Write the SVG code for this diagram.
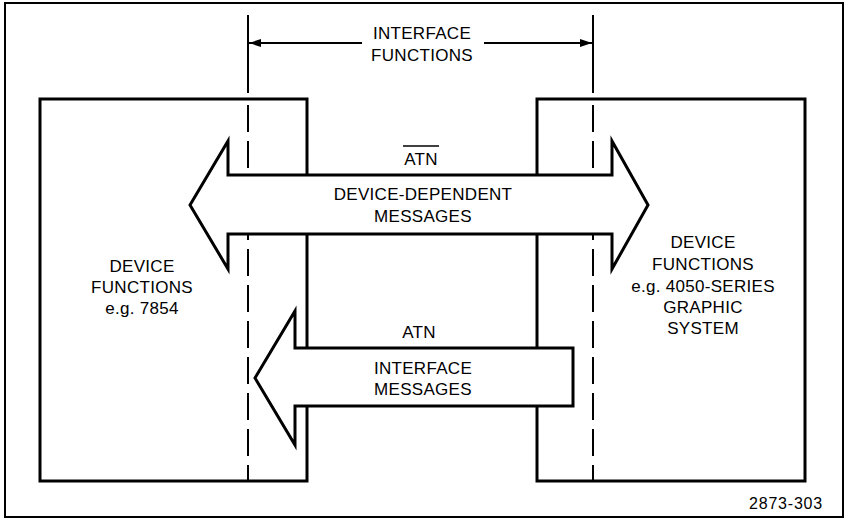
<svg xmlns="http://www.w3.org/2000/svg" width="845" height="519" viewBox="0 0 845 519">
<defs>
<marker id="ah" viewBox="0 0 12 8" refX="12" refY="4" markerWidth="12" markerHeight="8" markerUnits="userSpaceOnUse" orient="auto">
<path d="M0,0 L12,4 L0,8 Z" fill="#000"/>
</marker>
</defs>
<style>
.frame{fill:none;stroke:#000;stroke-width:2}
.box{fill:#fff;stroke:#000;stroke-width:3}
.arrow{fill:#fff;stroke:#000;stroke-width:3;stroke-linejoin:miter}
.dash{fill:none;stroke:#000;stroke-width:2;stroke-dasharray:27 9}
.line{fill:none;stroke:#000;stroke-width:2}
text{font-family:"Liberation Sans",Arial,sans-serif;font-size:17px;letter-spacing:0.3px;fill:#000;text-anchor:middle}
.small{font-size:16px;letter-spacing:0.8px}
</style>
<rect width="845" height="519" fill="#fff"/>
<rect class="frame" x="5" y="3" width="838" height="514"/>
<g id="left-device">
<rect class="box" x="40" y="99" width="267" height="382"/>
<text x="142" y="272">DEVICE</text>
<text x="142" y="293">FUNCTIONS</text>
<text x="142" y="314">e.g. 7854</text>
</g>
<g id="right-device">
<rect class="box" x="537" y="99" width="268" height="382"/>
<text x="703" y="248">DEVICE</text>
<text x="703" y="270">FUNCTIONS</text>
<text x="703" y="292">e.g. 4050-SERIES</text>
<text x="703" y="313">GRAPHIC</text>
<text x="703" y="334">SYSTEM</text>
</g>
<g id="interface-functions">
<line class="line" x1="248" y1="15" x2="248" y2="93"/>
<line class="line" x1="593" y1="15" x2="593" y2="93"/>
<line class="dash" x1="248" y1="105" x2="248" y2="481"/>
<line class="dash" x1="593" y1="105" x2="593" y2="481"/>
<text x="422" y="39">INTERFACE</text>
<text x="422" y="61">FUNCTIONS</text>
</g>
<g id="connectors">
<line class="line" x1="362" y1="43" x2="249" y2="43" marker-end="url(#ah)"/>
<line class="line" x1="484" y1="43" x2="592" y2="43" marker-end="url(#ah)"/>
</g>
<g id="device-dependent-messages">
<polygon class="arrow" points="190,205 228,141 228,175 612,175 612,141 648,205 612,269 612,234 228,234 228,269"/>
<text x="421" y="165">ATN</text>
<line class="line" x1="403" y1="146" x2="439" y2="146" style="stroke-width:1.5"/>
<text x="423" y="200">DEVICE-DEPENDENT</text>
<text x="423" y="222">MESSAGES</text>
</g>
<g id="interface-messages">
<polygon class="arrow" points="255,378 295,311 295,348 573,348 573,406 295,406 295,445"/>
<text x="419" y="338">ATN</text>
<text x="423" y="374">INTERFACE</text>
<text x="423" y="395">MESSAGES</text>
</g>
<text class="small" x="786" y="509">2873-303</text>
</svg>
